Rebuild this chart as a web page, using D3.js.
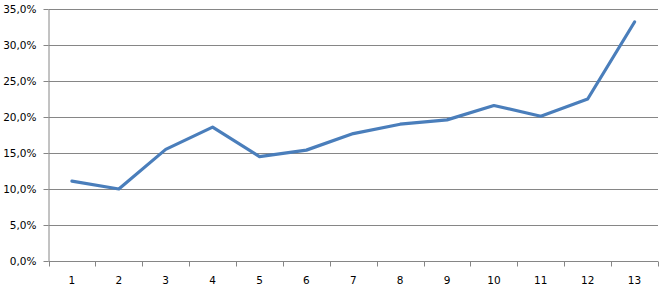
<!DOCTYPE html>
<html><head><meta charset="utf-8">
<script src="https://cdn.jsdelivr.net/npm/d3@7"></script>
<style>body{margin:0;background:#fff}svg{display:block}</style>
</head><body>
<svg id="c" width="666" height="292"></svg>
<script>
const categories = ["1","2","3","4","5","6","7","8","9","10","11","12","13"];
const values = [11.1, 10.0, 15.5, 18.6, 14.5, 15.4, 17.7, 19.0, 19.6, 21.6, 20.1, 22.5, 33.2];
const yTicks = [0,5,10,15,20,25,30,35];

const svg = d3.select("#c");
const m = {l:48.5, r:658, t:9, b:261};
const x = d3.scaleBand().domain(categories).range([m.l, m.r]).padding(0);
const y = d3.scaleLinear().domain([0,35]).range([m.b, m.t]);
const fmt = v => v.toFixed(1).replace(".", ",") + "%";
const font = "'DejaVu Sans', sans-serif";

// gridlines
svg.append("g").selectAll("line").data(yTicks.filter(d=>d>0)).join("line")
  .attr("x1", m.l).attr("x2", m.r)
  .attr("y1", d=>Math.round(y(d))+0.5).attr("y2", d=>Math.round(y(d))+0.5)
  .attr("stroke", "#868686").attr("stroke-width", 1);

// y axis
const ya = svg.append("g").attr("transform", `translate(${m.l},0)`)
  .call(d3.axisLeft(y).tickValues(yTicks).tickFormat(fmt).tickSize(5).tickPadding(7).tickSizeOuter(0));
ya.selectAll("line").attr("stroke", "#868686");
ya.selectAll(".tick").attr("transform", d=>`translate(0,${Math.round(y(d))+0.5})`);
ya.select(".domain").attr("stroke", "#868686");
ya.selectAll("text").attr("font-family", font).attr("font-size", 10.5).attr("fill", "#000");

// x axis
const xa = svg.append("g").attr("transform", `translate(0,${m.b+0.5})`);
xa.append("line").attr("x1", m.l).attr("x2", m.r).attr("stroke", "#868686");
const bounds = categories.map(c=>x(c)).concat([m.r]);
xa.selectAll("line.t").data(bounds).join("line").attr("class","t")
  .attr("x1", d=>Math.round(d)+0.5).attr("x2", d=>Math.round(d)+0.5)
  .attr("y1", 0).attr("y2", 5).attr("stroke", "#868686");
xa.selectAll("text").data(categories).join("text")
  .attr("x", d=>x(d)+x.bandwidth()/2).attr("y", 22)
  .attr("text-anchor", "middle")
  .attr("font-family", font).attr("font-size", 10.5).attr("fill", "#000")
  .text(d=>d);

// line
const line = d3.line().x((d,i)=>x(categories[i])+x.bandwidth()/2).y(d=>y(d));
svg.append("path").datum(values).attr("d", line)
  .attr("fill", "none").attr("stroke", "#4a7ebb").attr("stroke-width", 3.2)
  .attr("stroke-linejoin", "round").attr("stroke-linecap", "round");
</script>
</body></html>
